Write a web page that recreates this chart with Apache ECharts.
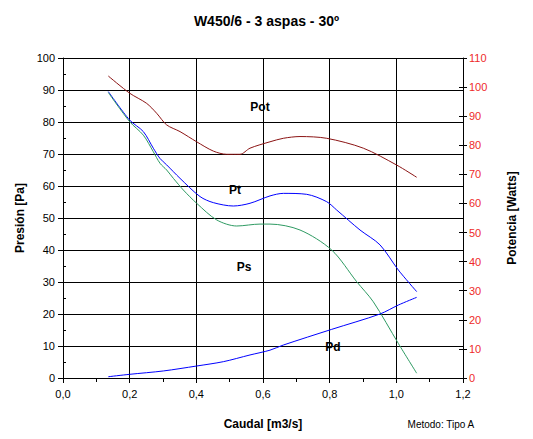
<!DOCTYPE html>
<html>
<head>
<meta charset="utf-8">
<script src="https://cdn.jsdelivr.net/npm/echarts@6/dist/echarts.min.js"></script>
<style>
  html, body { margin: 0; padding: 0; background: #fff; }
  #chart { width: 533px; height: 439px; }
</style>
</head>
<body>
<div id="chart"></div>
<script>
// caudal [m3/s] and values
const flowPot = [0.136, 0.2, 0.251, 0.281, 0.311, 0.351, 0.401, 0.451, 0.491, 0.531, 0.561, 0.621, 0.661, 0.711, 0.791, 0.901, 1.001, 1.061];
const pot = [103.8, 97.9, 94.4, 91.0, 87.0, 84.7, 81.2, 78.0, 76.9, 76.9, 79.0, 81.2, 82.4, 83.0, 82.4, 79.0, 73.2, 69.0];

const flowPt = [0.136, 0.2, 0.241, 0.271, 0.291, 0.311, 0.351, 0.411, 0.451, 0.511, 0.561, 0.621, 0.661, 0.731, 0.791, 0.821, 0.891, 0.951, 1.006, 1.061];
const pt = [89.5, 80.6, 77.0, 71.8, 68.6, 66.6, 62.4, 56.7, 54.8, 53.75, 54.6, 56.9, 57.7, 57.4, 55.1, 52.5, 46.25, 41.6, 33.75, 27.0];

const flowPs = [0.136, 0.2, 0.241, 0.271, 0.291, 0.311, 0.331, 0.361, 0.401, 0.461, 0.521, 0.591, 0.621, 0.711, 0.806, 0.881, 0.931, 1.006, 1.061];
const ps = [89.2, 80.1, 75.9, 70.7, 67.1, 65.0, 62.4, 58.75, 54.6, 49.4, 47.5, 48.1, 48.1, 46.25, 40.0, 30.1, 23.8, 10.8, 1.5];

const flowPd = [0.136, 0.2, 0.301, 0.401, 0.481, 0.561, 0.621, 0.661, 0.806, 0.951, 1.006, 1.061];
const pd = [0.4, 1.15, 2.2, 3.75, 5.1, 7.2, 8.7, 10.3, 15.2, 20.0, 22.8, 25.2];

// curve labels: [caudal, value]
const labelPot = [0.591, 93.2];
const labelPt = [0.516, 58.75];
const labelPs = [0.543, 34.7];
const labelPd = [0.81, 9.7];

const pairs = (xs, ys) => xs.map((x, i) => [x, ys[i]]);
const font = "'Liberation Sans', Arial, sans-serif";

function curveLabel(name, coord) {
  return {
    symbol: "circle",
    symbolSize: 1,
    silent: true,
    itemStyle: { color: "rgba(0,0,0,0)" },
    data: [{ coord: coord }],
    label: {
      show: true, position: "inside", formatter: name,
      color: "#000", fontWeight: "bold", fontSize: 12, fontFamily: font
    }
  };
}

const chart = echarts.init(document.getElementById("chart"), null, { renderer: "svg" });
chart.setOption({
  backgroundColor: "#fff",
  animation: false,
  title: {
    text: "W450/6 - 3 aspas - 30º",
    left: "center",
    top: 9,
    textStyle: { fontSize: 14, fontWeight: "bold", color: "#000", fontFamily: font }
  },
  grid: { left: 63, right: 70, top: 58, bottom: 61 },
  graphic: [{
    type: "text", right: 58, top: 419,
    style: { text: "Metodo: Tipo A", fontSize: 10, fill: "#000", fontFamily: font }
  }],
  xAxis: [{
    type: "value", min: 0, max: 1.2, interval: 0.2,
    name: "Caudal [m3/s]", nameLocation: "middle", nameGap: 40,
    nameTextStyle: { fontSize: 12, fontWeight: "bold", color: "#000", fontFamily: font },
    axisLine: { lineStyle: { color: "#000", width: 1 } },
    axisTick: { show: true, length: 5, lineStyle: { color: "#000" } },
    axisLabel: {
      margin: 10, fontSize: 11, color: "#000", fontFamily: font,
      formatter: (v) => v.toFixed(1).replace(".", ",")
    },
    splitLine: { show: true, lineStyle: { color: "#000", width: 1 } }
  }, {
    type: "value", min: 0, max: 1.2, interval: 0.1,
    axisLine: { show: false },
    axisTick: { show: true, inside: true, length: 4, lineStyle: { color: "#000" } },
    axisLabel: { show: false },
    splitLine: { show: false }
  }],
  yAxis: [{
    type: "value", min: 0, max: 100, interval: 10, position: "left",
    name: "Presión [Pa]", nameLocation: "middle", nameGap: 36,
    nameTextStyle: { fontSize: 12, fontWeight: "bold", color: "#000", fontFamily: font },
    axisLine: { show: true, lineStyle: { color: "#000", width: 1 } },
    axisTick: { show: true, length: 5, lineStyle: { color: "#000" } },
    axisLabel: { margin: 8, fontSize: 11, color: "#000", fontFamily: font },
    splitLine: { show: true, lineStyle: { color: "#000", width: 1 } }
  }, {
    type: "value", min: 0, max: 100, interval: 5, position: "left",
    axisLine: { show: false },
    axisTick: { show: true, inside: true, length: 3, lineStyle: { color: "#000" } },
    axisLabel: { show: false },
    splitLine: { show: false }
  }, {
    type: "value", min: 0, max: 110, interval: 10, position: "right",
    name: "Potencia [Watts]", nameLocation: "middle", nameGap: 43, nameRotate: 90,
    nameTextStyle: { fontSize: 12, fontWeight: "bold", color: "#000", fontFamily: font },
    axisLine: { show: true, lineStyle: { color: "#000", width: 1 } },
    axisTick: { show: true, length: 4, lineStyle: { color: "#000" } },
    axisLabel: { margin: 6, fontSize: 11, color: "#ee2a2a", fontFamily: font },
    splitLine: { show: false }
  }, {
    type: "value", min: 0, max: 110, interval: 10, position: "right",
    axisLine: { show: false },
    axisTick: { show: true, inside: true, length: 4, lineStyle: { color: "#000" } },
    axisLabel: { show: false },
    splitLine: { show: false }
  }],
  series: [{
    name: "Pot", type: "line", yAxisIndex: 2, smooth: 0.3, showSymbol: false,
    data: pairs(flowPot, pot),
    lineStyle: { color: "#8b1414", width: 1 },
    markPoint: curveLabel("Pot", labelPot)
  }, {
    name: "Pt", type: "line", yAxisIndex: 0, smooth: 0.3, showSymbol: false,
    data: pairs(flowPt, pt),
    lineStyle: { color: "#0000ff", width: 1 },
    markPoint: curveLabel("Pt", labelPt)
  }, {
    name: "Ps", type: "line", yAxisIndex: 0, smooth: 0.3, showSymbol: false,
    data: pairs(flowPs, ps),
    lineStyle: { color: "#2e9a62", width: 1 },
    markPoint: curveLabel("Ps", labelPs)
  }, {
    name: "Pd", type: "line", yAxisIndex: 0, smooth: 0.3, showSymbol: false,
    data: pairs(flowPd, pd),
    lineStyle: { color: "#0000ff", width: 1 },
    markPoint: curveLabel("Pd", labelPd)
  }]
});
</script>
</body>
</html>
